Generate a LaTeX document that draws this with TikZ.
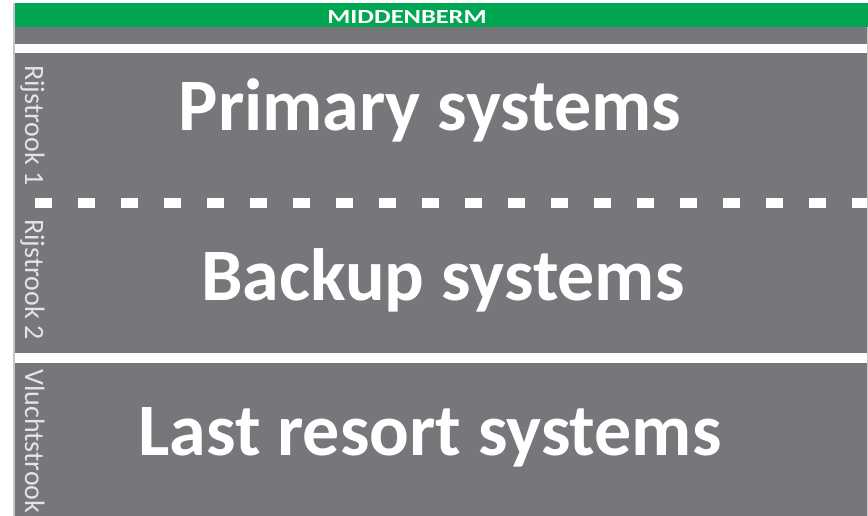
\documentclass[tikz,border=0pt]{standalone}
\usepackage{fontspec}
\setmainfont{Carlito}
\usepackage{graphicx}
\usetikzlibrary{
  calc,
  positioning
}
\definecolor{roadgray}{RGB}{118,119,123}
\definecolor{bermgreen}{RGB}{0,166,81}
\definecolor{lanetext}{RGB}{228,228,230}

\begin{document}
\begin{tikzpicture}[x=1pt,y=-1pt]
  \useasboundingbox (0,0) rectangle (868,516);

  \fill[roadgray] (13,3) rectangle (868,516);
  \fill[bermgreen] (13,3) rectangle (868,27);
  \node[white,inner sep=0,font=\bfseries\fontsize{20}{20}\selectfont]
  at (407,17) (Middenberm) {\scalebox{1.32}[1]{MIDDENBERM}};

  \fill[white] (13,44) rectangle (868,53);
  \draw[white,line width=10pt,dash pattern=on 17pt off 26pt]
  (35,203.5) -- (868,203.5);
  \fill[white] (13,353) rectangle (868,363);
  \draw[gray!45,line width=1.5pt] (14,3) -- (14,516);
  \draw[gray!45,line width=1pt] (867.5,27) -- (867.5,516);

  \node[lanetext,rotate=-90,anchor=base west,inner sep=0,font=\fontsize{28}{28}\selectfont]
  at (25,65) (Lane One) {Rijstrook 1};
  \node[lanetext,rotate=-90,anchor=base west,inner sep=0,font=\fontsize{28}{28}\selectfont]
  at (25,219) (Lane Two) {Rijstrook 2};
  \node[lanetext,rotate=-90,anchor=base west,inner sep=0,font=\fontsize{28}{28}\selectfont]
  at (25,369) (Hard Shoulder) {Vluchtstrook};

  \node[white,anchor=base,inner sep=0,font=\bfseries\fontsize{74}{74}\selectfont]
  at (430,131) (Primary) {Primary systems};
  \node[white,anchor=base,inner sep=0,font=\bfseries\fontsize{74}{74}\selectfont]
  at (443,300) (Backup) {Backup systems};
  \node[white,anchor=base,inner sep=0,font=\bfseries\fontsize{74}{74}\selectfont]
  at (430,455) (Last Resort) {Last resort systems};
\end{tikzpicture}
\end{document}
